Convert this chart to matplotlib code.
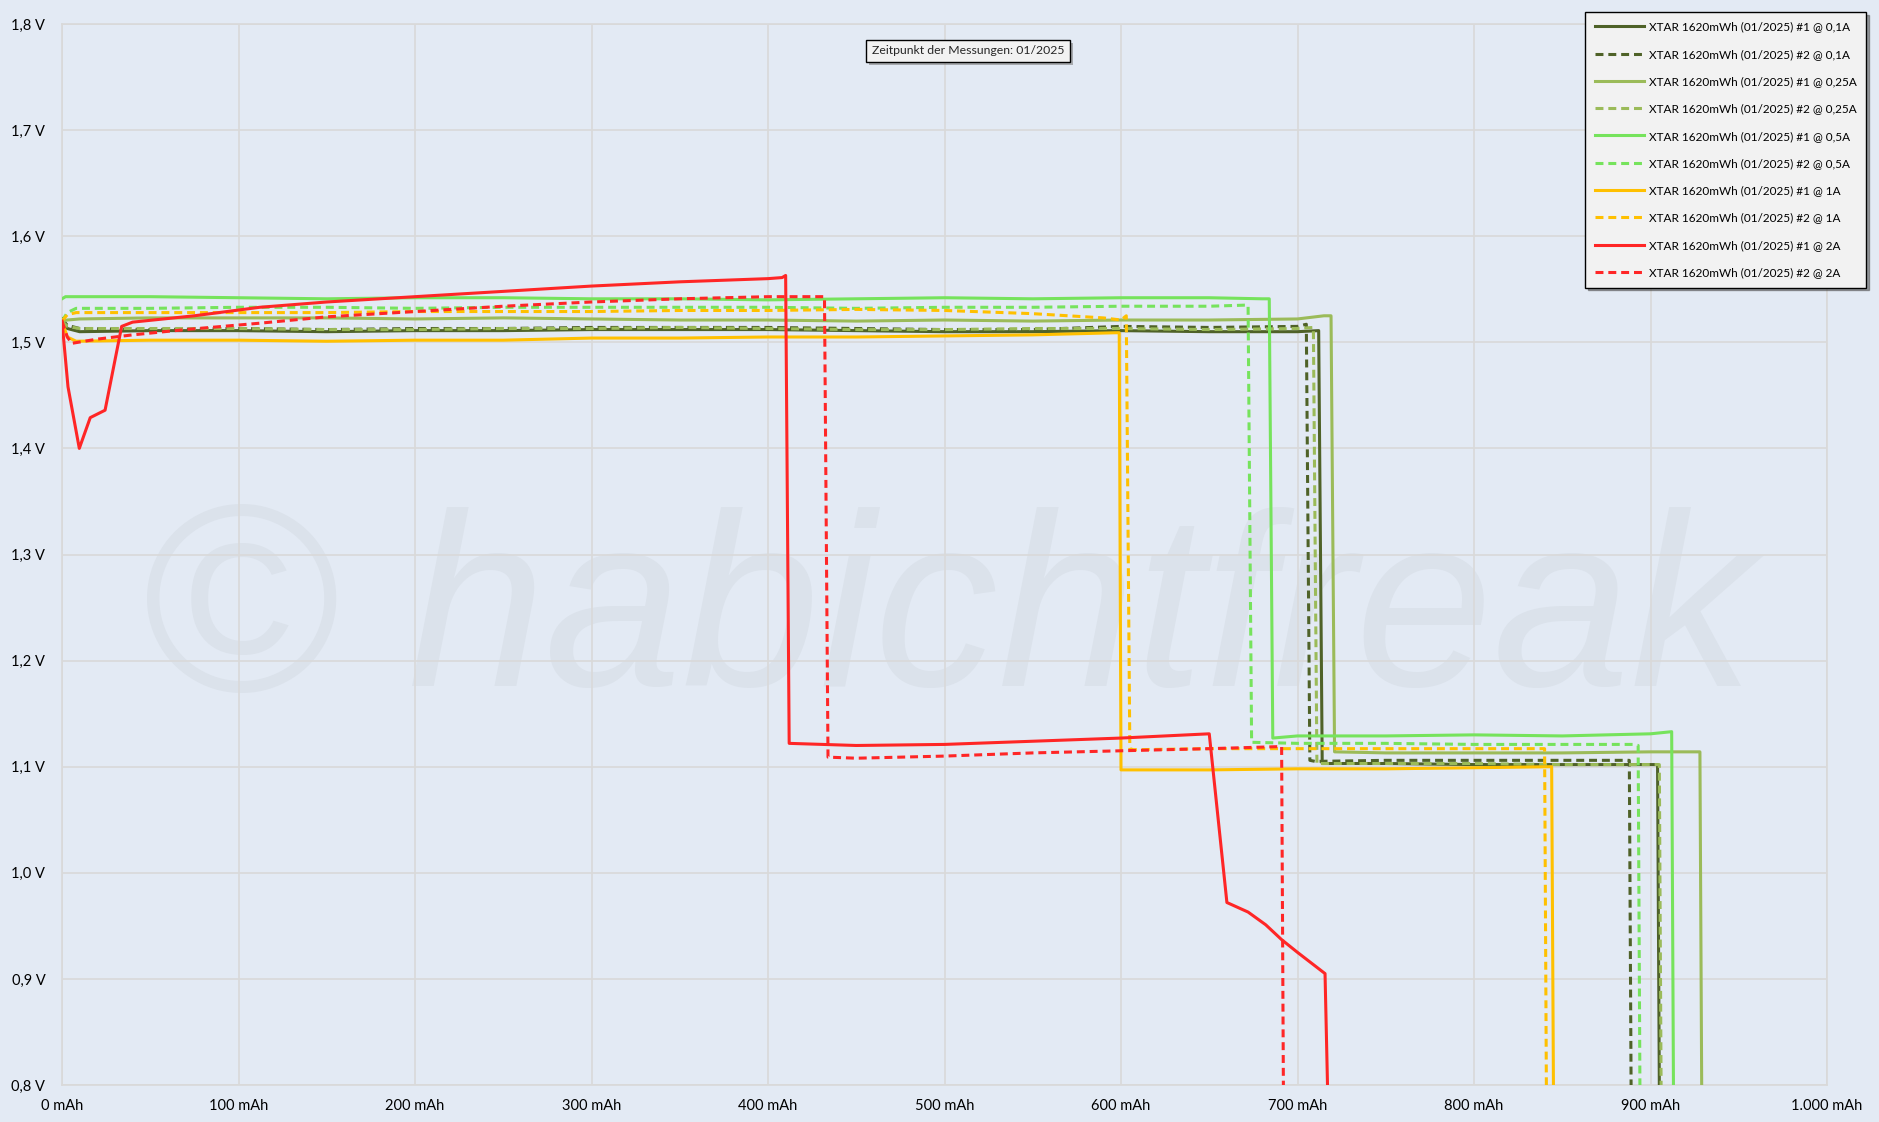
import matplotlib
matplotlib.use("Agg")
import matplotlib.pyplot as plt
import matplotlib.patheffects as pe
from matplotlib.ticker import FuncFormatter, MultipleLocator

# Entladekurven XTAR 1620mWh (Kapazitaet in mAh, Spannung in V)
x_01_1 = [0, 3, 10, 50, 100, 150, 200, 250, 300, 350, 400, 450, 500, 550, 600, 650, 700, 712, 714, 716, 750, 800, 850, 900, 904, 905]
v_01_1 = [1.522, 1.513, 1.510, 1.511, 1.511, 1.510, 1.511, 1.511, 1.512, 1.512, 1.512, 1.511, 1.510, 1.510, 1.511, 1.510, 1.510, 1.511, 1.103, 1.103, 1.103, 1.102, 1.102, 1.102, 1.102, 0.8]

x_01_2 = [0, 3, 10, 50, 100, 150, 200, 250, 300, 350, 400, 450, 500, 550, 600, 650, 700, 705, 707, 710, 750, 800, 850, 888, 889]
v_01_2 = [1.522, 1.516, 1.513, 1.512, 1.513, 1.512, 1.513, 1.513, 1.514, 1.514, 1.514, 1.513, 1.512, 1.512, 1.515, 1.514, 1.515, 1.517, 1.106, 1.105, 1.106, 1.106, 1.106, 1.106, 0.8]

x_025_1 = [0, 3, 10, 50, 100, 150, 200, 250, 300, 350, 400, 450, 500, 550, 600, 650, 700, 715, 719, 721, 750, 800, 850, 900, 928, 929]
v_025_1 = [1.520, 1.521, 1.522, 1.523, 1.523, 1.523, 1.522, 1.523, 1.522, 1.521, 1.521, 1.520, 1.521, 1.520, 1.521, 1.521, 1.522, 1.525, 1.525, 1.114, 1.113, 1.113, 1.113, 1.114, 1.114, 0.8]

x_025_2 = [0, 3, 10, 50, 100, 150, 200, 250, 300, 350, 400, 450, 500, 550, 600, 650, 700, 709, 711, 713, 750, 800, 850, 900, 905, 906]
v_025_2 = [1.520, 1.515, 1.513, 1.513, 1.513, 1.512, 1.512, 1.513, 1.513, 1.514, 1.513, 1.512, 1.512, 1.513, 1.513, 1.512, 1.513, 1.514, 1.103, 1.103, 1.103, 1.103, 1.102, 1.102, 1.102, 0.8]

x_05_1 = [0, 2, 50, 100, 150, 200, 250, 300, 350, 400, 450, 500, 550, 600, 650, 680, 684, 686, 700, 750, 800, 850, 900, 912, 913]
v_05_1 = [1.541, 1.543, 1.543, 1.542, 1.541, 1.542, 1.542, 1.541, 1.541, 1.540, 1.541, 1.542, 1.541, 1.542, 1.542, 1.541, 1.541, 1.127, 1.129, 1.129, 1.130, 1.129, 1.131, 1.133, 0.8]

x_05_2 = [0, 3, 8, 50, 100, 150, 200, 250, 300, 350, 400, 450, 500, 550, 600, 650, 670, 672, 674, 700, 750, 800, 850, 890, 893, 894]
v_05_2 = [1.520, 1.528, 1.532, 1.532, 1.533, 1.533, 1.532, 1.533, 1.533, 1.533, 1.533, 1.532, 1.533, 1.533, 1.534, 1.534, 1.535, 1.535, 1.123, 1.122, 1.122, 1.121, 1.121, 1.121, 1.120, 0.8]

x_1_1 = [0, 3, 8, 50, 100, 150, 200, 250, 300, 350, 400, 450, 500, 550, 597, 599, 600, 650, 700, 750, 800, 844, 845]
v_1_1 = [1.520, 1.505, 1.501, 1.502, 1.502, 1.501, 1.502, 1.502, 1.504, 1.504, 1.505, 1.505, 1.506, 1.507, 1.509, 1.509, 1.097, 1.097, 1.098, 1.098, 1.099, 1.100, 0.8]

x_1_2 = [0, 3, 8, 50, 100, 150, 200, 250, 300, 350, 400, 450, 500, 550, 590, 600, 603, 605, 607, 650, 700, 750, 800, 840, 841]
v_1_2 = [1.520, 1.526, 1.528, 1.528, 1.528, 1.528, 1.529, 1.529, 1.529, 1.530, 1.530, 1.531, 1.530, 1.527, 1.523, 1.521, 1.525, 1.117, 1.116, 1.117, 1.117, 1.117, 1.117, 1.117, 0.8]

x_2_1 = [0, 3.4, 9.8, 16, 24.4, 33.8, 40, 75, 112, 150, 200, 250, 300, 350, 400, 408, 410, 412, 450, 500, 550, 600, 650, 660, 672, 682, 691, 700, 715.6, 717]
v_2_1 = [1.520, 1.458, 1.400, 1.429, 1.436, 1.515, 1.519, 1.525, 1.533, 1.538, 1.543, 1.548, 1.553, 1.557, 1.560, 1.561, 1.563, 1.122, 1.120, 1.121, 1.124, 1.127, 1.131, 0.972, 0.963, 0.951, 0.937, 0.925, 0.905, 0.8]

x_2_2 = [0, 3, 5.5, 20, 40, 70, 112, 150, 200, 250, 300, 350, 400, 432, 434, 450, 500, 550, 600, 650, 691, 692]
v_2_2 = [1.520, 1.505, 1.499, 1.503, 1.507, 1.512, 1.518, 1.524, 1.529, 1.534, 1.538, 1.541, 1.543, 1.543, 1.109, 1.108, 1.110, 1.113, 1.115, 1.117, 1.119, 0.8]

serien = [
    ("XTAR 1620mWh (01/2025) #1 @ 0,1A", x_01_1, v_01_1, "#4F6228", "-"),
    ("XTAR 1620mWh (01/2025) #2 @ 0,1A", x_01_2, v_01_2, "#4F6228", "--"),
    ("XTAR 1620mWh (01/2025) #1 @ 0,25A", x_025_1, v_025_1, "#9BBB59", "-"),
    ("XTAR 1620mWh (01/2025) #2 @ 0,25A", x_025_2, v_025_2, "#9BBB59", "--"),
    ("XTAR 1620mWh (01/2025) #1 @ 0,5A", x_05_1, v_05_1, "#76E35C", "-"),
    ("XTAR 1620mWh (01/2025) #2 @ 0,5A", x_05_2, v_05_2, "#76E35C", "--"),
    ("XTAR 1620mWh (01/2025) #1 @ 1A", x_1_1, v_1_1, "#FFC000", "-"),
    ("XTAR 1620mWh (01/2025) #2 @ 1A", x_1_2, v_1_2, "#FFC000", "--"),
    ("XTAR 1620mWh (01/2025) #1 @ 2A", x_2_1, v_2_1, "#FF2626", "-"),
    ("XTAR 1620mWh (01/2025) #2 @ 2A", x_2_2, v_2_2, "#FF2626", "--"),
]

hintergrund = "#E3EAF4"
plt.rcParams['font.family'] = ['Lato', 'DejaVu Sans']

fig = plt.figure(figsize=(18.79, 11.22), dpi=100, facecolor=hintergrund)
ax = fig.add_axes([62 / 1879, 1 - 1085 / 1122, 1765 / 1879, 1061 / 1122])
ax.set_facecolor(hintergrund)

# Wasserzeichen (unter Gitter und Linien)
ax.text(143 / 1879, 1 - 691 / 1122, "\u00a9", fontsize=193, family='Liberation Sans',
        color="#DBE2EB", ha='left', va='baseline', zorder=0.5, transform=fig.transFigure)
ax.text(408 / 1879, 1 - 686 / 1122, "habichtfreak", fontsize=178, family='Liberation Sans',
        style='italic', color="#DBE2EB", ha='left', va='baseline', zorder=0.5, transform=fig.transFigure)

for label, xs, vs, farbe, stil in serien:
    if stil == "--":
        ax.plot(xs, vs, color=farbe, lw=2.2, linestyle=(0, (2.6, 1.6)), label=label, zorder=3)
    else:
        ax.plot(xs, vs, color=farbe, lw=2.2, label=label, zorder=3)

ax.set_xlim(0, 1000)
ax.set_ylim(0.8, 1.8)
ax.xaxis.set_major_locator(MultipleLocator(100))
ax.yaxis.set_major_locator(MultipleLocator(0.1))
ax.xaxis.set_major_formatter(FuncFormatter(lambda v, p: f"{int(round(v)):,} mAh".replace(",", ".")))
ax.yaxis.set_major_formatter(FuncFormatter(lambda v, p: f"{v:.1f} V".replace(".", ",")))
ax.tick_params(axis='both', length=0, labelsize=10.5, colors='black')
ax.tick_params(axis='y', pad=12)
ax.tick_params(axis='x', pad=10)
ax.grid(True, color="#D9D9D9", lw=1.2, zorder=1)
ax.set_axisbelow(False)
for l in ax.get_xgridlines() + ax.get_ygridlines():
    l.set_zorder(1)
for s in ax.spines.values():
    s.set_color("#D9D9D9")
    s.set_linewidth(1.2)

leg = fig.legend(loc='upper right', bbox_to_anchor=(1866 / 1879, 1 - 12 / 1122), fontsize=8.5,
                 handlelength=4.2, labelspacing=1.38, borderpad=0.8, handletextpad=0.37, borderaxespad=0,
                 frameon=True, fancybox=False, shadow=True, framealpha=1)
leg.get_frame().set_facecolor("#F2F2F2")
leg.get_frame().set_edgecolor("black")
leg.get_frame().set_linewidth(1.0)

t = fig.text(968 / 1879, 1 - 51 / 1122, "Zeitpunkt der Messungen: 01/2025", fontsize=8.8, ha='center', va='center',
             color="#262626",
             bbox=dict(boxstyle='square,pad=0.45', facecolor="#F2F2F2", edgecolor="black", linewidth=1.0))
t.get_bbox_patch().set_path_effects([pe.SimplePatchShadow(offset=(2, -2), shadow_rgbFace='gray', alpha=0.6), pe.Normal()])

fig.savefig("out.png", dpi=100, facecolor=hintergrund)
